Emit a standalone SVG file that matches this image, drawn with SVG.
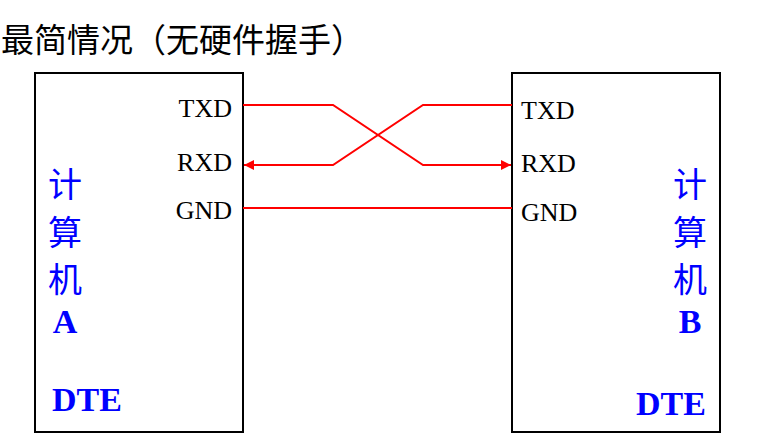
<svg xmlns="http://www.w3.org/2000/svg" width="759" height="446" viewBox="0 0 759 446">
<defs>
<style>
.box{fill:#fff;stroke:#000;stroke-width:2}
.sig{font-family:"Liberation Serif",serif;font-size:26px;fill:#000}
.cn{font-family:"Noto Sans CJK SC",sans-serif;font-size:34px;fill:#0000ff}
.bl{font-family:"Liberation Serif",serif;font-size:34px;font-weight:bold;fill:#0000ff}
.w{fill:none;stroke:#ff0000;stroke-width:2}
</style>
<marker id="ah" viewBox="0 0 10 10" refX="10" refY="5" markerWidth="12" markerHeight="10" orient="auto" markerUnits="userSpaceOnUse"><path d="M0,0L10,5L0,10z" fill="#ff0000"/></marker>
</defs>
<rect width="759" height="446" fill="#fff"/>
<text x="1" y="52" font-family="'Noto Sans CJK SC',sans-serif" font-size="33" fill="#000">最简情况（无硬件握手）</text>
<g id="nodeA">
<rect class="box" x="35" y="73" width="208" height="359"/>
<text class="sig" x="232" y="117" text-anchor="end">TXD</text>
<text class="sig" x="232" y="171" text-anchor="end">RXD</text>
<text class="sig" x="232" y="219" text-anchor="end">GND</text>
<text class="cn" x="65" y="197" text-anchor="middle">计</text>
<text class="cn" x="65" y="245" text-anchor="middle">算</text>
<text class="cn" x="65" y="292" text-anchor="middle">机</text>
<text class="bl" x="65" y="333" text-anchor="middle">A</text>
<text class="bl" x="87" y="411" text-anchor="middle">DTE</text>
</g>
<g id="nodeB">
<rect class="box" x="512" y="73" width="208" height="359"/>
<text class="sig" x="521" y="119">TXD</text>
<text class="sig" x="521" y="172">RXD</text>
<text class="sig" x="521" y="221">GND</text>
<text class="cn" x="690" y="197" text-anchor="middle">计</text>
<text class="cn" x="690" y="245" text-anchor="middle">算</text>
<text class="cn" x="690" y="292" text-anchor="middle">机</text>
<text class="bl" x="690" y="333" text-anchor="middle">B</text>
<text class="bl" x="671" y="415" text-anchor="middle">DTE</text>
</g>
<g id="connectors">
<polyline class="w" points="243,105 333,105 423,165 511,165" marker-end="url(#ah)"/>
<polyline class="w" points="512,105 423,105 333,165 244,165" marker-end="url(#ah)"/>
<line class="w" x1="243" y1="208" x2="512" y2="208"/>
</g>
</svg>
